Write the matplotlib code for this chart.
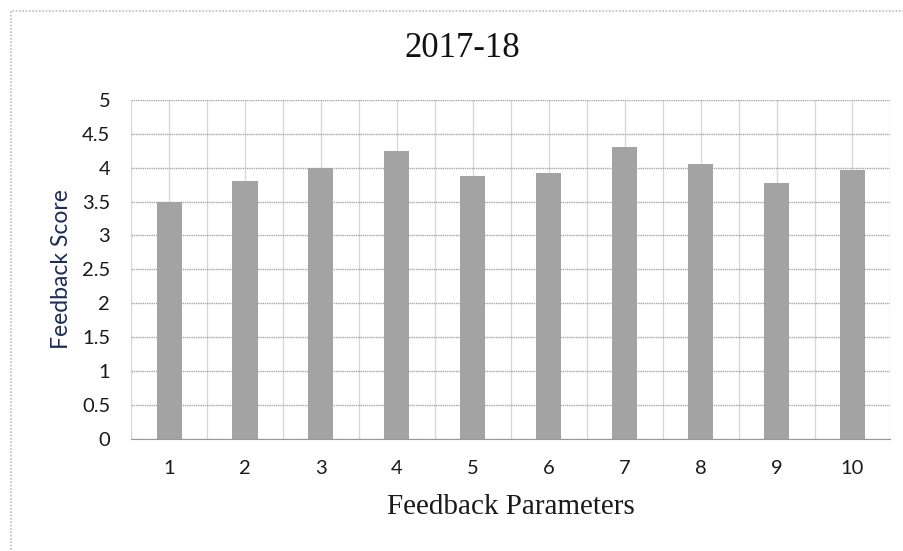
import matplotlib
matplotlib.use("Agg")
import matplotlib.pyplot as plt
from matplotlib.patches import Rectangle
from matplotlib.ticker import MultipleLocator

# data
params = [1, 2, 3, 4, 5, 6, 7, 8, 9, 10]
scores = [3.5, 3.8, 4.0, 4.25, 3.87, 3.92, 4.3, 4.05, 3.77, 3.97]
y_ticks = [0, 0.5, 1, 1.5, 2, 2.5, 3, 3.5, 4, 4.5, 5]
y_tick_labels = ["0", "0.5", "1", "1.5", "2", "2.5", "3", "3.5", "4", "4.5", "5"]

fig = plt.figure(figsize=(9.04, 5.51), dpi=100)
ax = fig.add_axes([0.145, 0.203, 0.840, 0.616])

# outer chart border
fig.patches.append(Rectangle((0.012, -0.05), 1.1, 1.03, transform=fig.transFigure,
                             fill=False, edgecolor="#bdbdbd", linewidth=1.2,
                             linestyle=(0, (1, 1))))

ax.bar(params, scores, width=0.33, color="#a3a3a3", zorder=3)

ax.set_xlim(0.5, 10.5)
ax.set_ylim(0, 5)
ax.set_xticks(params)
ax.set_xticklabels([str(p) for p in params])
ax.xaxis.set_minor_locator(MultipleLocator(0.5))
ax.set_yticks(y_ticks)
ax.set_yticklabels(y_tick_labels)

ax.grid(axis="y", which="major", color="#a8a8a8", linewidth=1.0,
        linestyle=(0, (1, 0.6)), zorder=1)
ax.grid(axis="x", which="both", color="#d6d6d6", linewidth=0.9, zorder=1)

for side in ["top", "right", "left"]:
    ax.spines[side].set_visible(False)
ax.spines["bottom"].set_color("#999999")
ax.spines["bottom"].set_zorder(4)

ax.tick_params(axis="both", which="both", length=0)
ax.tick_params(axis="x", pad=15, labelsize=14.5)
ax.tick_params(axis="y", pad=15, labelsize=14.5)
for lab in ax.get_xticklabels() + ax.get_yticklabels():
    lab.set_family("Lato")
    lab.set_color("#1a1a1a")

ax.set_ylabel("Feedback Score", family="Lato", fontsize=16.5, color="#1c2c58", labelpad=7)
ax.set_xlabel("Feedback Parameters", family="Liberation Serif", fontsize=21,
              color="#1a1a1a", labelpad=12)
fig.text(0.512, 0.912, "2017-18", family="Liberation Serif", fontsize=25,
         color="#111111", ha="center", va="center")

fig.savefig("out.png", dpi=100, facecolor="white")
